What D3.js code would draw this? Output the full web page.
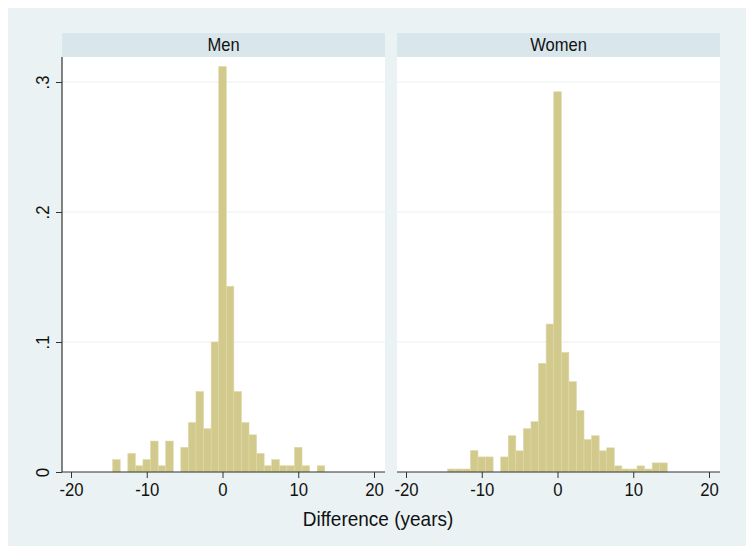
<!DOCTYPE html>
<html>
<head>
<meta charset="utf-8">
<script src="https://cdn.jsdelivr.net/npm/d3@7"></script>
<style>
  html, body { margin: 0; padding: 0; background: #ffffff; }
  svg { display: block; font-family: "Liberation Sans", Arial, sans-serif; }
</style>
</head>
<body>
<svg id="chart" width="754" height="554"></svg>
<script>
// ---- data ----
const panels = ["Men", "Women"];
const binCenters = d3.range(-14, 15); // -14 .. 14, bin width 1
const menDensity = [0.0095, 0, 0.0143, 0.0048, 0.0095, 0.0238, 0.0048, 0.0238, 0, 0.019,
  0.0381, 0.0619, 0.0333, 0.1, 0.3119, 0.1429, 0.0619, 0.0381, 0.0286, 0.0143,
  0.0048, 0.0095, 0.0048, 0.0048, 0.019, 0.0048, 0, 0.0048, 0];
const womenDensity = [0.0023, 0.0023, 0.0023, 0.0164, 0.0116, 0.0116, 0, 0.0116, 0.0279, 0.0163,
  0.0333, 0.0387, 0.0836, 0.1138, 0.2925, 0.092, 0.0695, 0.0472, 0.025, 0.0279,
  0.0163, 0.0186, 0.0047, 0.0023, 0.0023, 0.0047, 0.0023, 0.007, 0.007];
const xTicks = [-20, -10, 0, 10, 20];
const xTickLabels = ["-20", "-10", "0", "10", "20"];
const yTicks = [0, 0.1, 0.2, 0.3];
const yTickLabels = ["0", ".1", ".2", ".3"];
const xTitle = "Difference (years)";

// ---- layout ----
const FONT = "Liberation Sans, Arial, sans-serif";
const svg = d3.select("#chart");
svg.append("rect").attr("x", 8).attr("y", 8).attr("width", 738).attr("height", 538)
  .attr("fill", "#eaf2f3");

const plotTop = 57, plotBottom = 472, headerTop = 33;
const panelX = [62, 397], panelW = 323;
const y = d3.scaleLinear().domain([0, 0.3]).range([plotBottom, 82]);
const series = [menDensity, womenDensity];

panels.forEach((name, i) => {
  const px = panelX[i];
  const x = d3.scaleLinear().domain([-20, 20]).range([px + 9, px + 312]);
  const g = svg.append("g");
  // header strip
  g.append("rect").attr("x", px).attr("y", headerTop).attr("width", panelW)
    .attr("height", plotTop - headerTop).attr("fill", "#d9e6eb");
  g.append("g").attr("transform", `translate(${px + panelW / 2},51) scale(0.92,1)`)
    .append("text").attr("text-anchor", "middle")
    .attr("font-size", 18).attr("fill", "#111").text(name);
  // plot region
  g.append("rect").attr("x", px).attr("y", plotTop).attr("width", panelW)
    .attr("height", plotBottom - plotTop).attr("fill", "#ffffff");
  // grid
  g.selectAll(".grid").data(yTicks.slice(1)).join("line")
    .attr("x1", px).attr("x2", px + panelW)
    .attr("y1", d => y(d)).attr("y2", d => y(d))
    .attr("stroke", "#eaf0f2").attr("stroke-width", 1);
  // bars
  const data = binCenters.map((c, k) => ({ c, v: series[i][k] })).filter(d => d.v > 0);
  g.selectAll(".bar").data(data).join("rect")
    .attr("x", d => x(d.c - 0.5)).attr("width", d => x(d.c + 0.5) - x(d.c - 0.5))
    .attr("y", d => y(d.v)).attr("height", d => y(0) - y(d.v))
    .attr("fill", "#d2c98c").attr("stroke", "#e0d9a8").attr("stroke-width", 0.6);
  // x axis
  const xa = g.append("g").attr("transform", `translate(0,${plotBottom})`)
    .call(d3.axisBottom(x).tickValues(xTicks).tickFormat((d, k) => xTickLabels[k])
      .tickSize(6).tickSizeOuter(0).tickPadding(5));
  xa.select(".domain").remove();
  xa.append("line").attr("x1", px).attr("x2", px + panelW).attr("y1", 0).attr("y2", 0)
    .attr("stroke", "#333").attr("stroke-width", 1.2);
  xa.selectAll(".tick line").attr("stroke", "#333");
  xa.selectAll(".tick text").attr("font-size", 18).attr("fill", "#111")
    .attr("font-family", FONT).attr("transform", "scale(0.93,1)");
  // y axis on first panel only
  if (i === 0) {
    const ya = g.append("g").attr("transform", `translate(${px},0)`)
      .call(d3.axisLeft(y).tickValues(yTicks).tickFormat((d, k) => yTickLabels[k])
        .tickSize(6).tickSizeOuter(0));
    ya.select(".domain").remove();
    ya.append("line").attr("x1", 0).attr("x2", 0).attr("y1", plotTop).attr("y2", plotBottom)
      .attr("stroke", "#333").attr("stroke-width", 1.2);
    ya.selectAll(".tick line").attr("stroke", "#333");
    ya.selectAll(".tick text")
      .attr("font-size", 18).attr("fill", "#111")
      .attr("font-family", FONT)
      .attr("x", null).attr("dy", null)
      .attr("text-anchor", "middle")
      .attr("transform", "translate(-18,0) rotate(-90) scale(0.93,1)")
      .attr("dominant-baseline", "middle");
  }
});

svg.append("g").attr("transform", "translate(378,526) scale(0.95,1)")
  .append("text").attr("text-anchor", "middle")
  .attr("font-size", 20).attr("fill", "#111").text(xTitle);
</script>
</body>
</html>
